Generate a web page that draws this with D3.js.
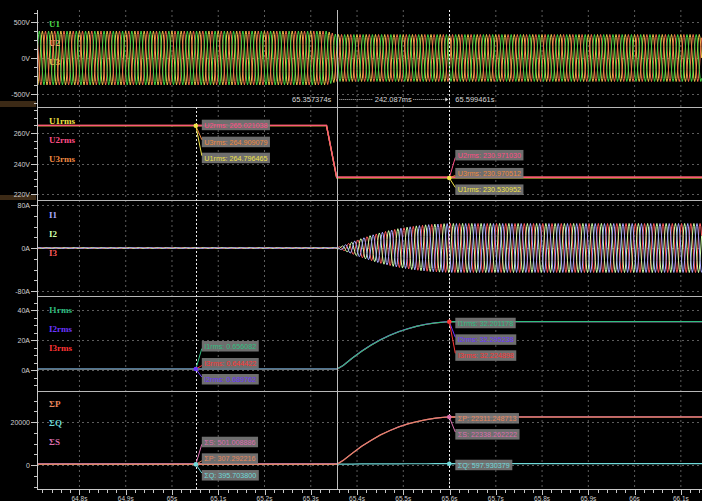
<!DOCTYPE html>
<html><head><meta charset="utf-8">
<script src="https://cdn.jsdelivr.net/npm/d3@7"></script>
<style>
html,body{margin:0;padding:0;background:#000;overflow:hidden}
svg{display:block}
</style></head><body>
<svg id="c" width="702" height="501"></svg>
<script>
// ================= DATA =================
const timeDomain = [64.7082, 66.1457];
const xTicks = [64.8, 64.9, 65.0, 65.1, 65.2, 65.3, 65.4, 65.5, 65.6, 65.7, 65.8, 65.9, 66.0, 66.1];
const xTickLabels = ["64.8s","64.9s","65s","65.1s","65.2s","65.3s","65.4s","65.5s","65.6s","65.7s","65.8s","65.9s","66s","66.1s"];

const markerTimes = [65.0515, 65.599461];
const cursorA = 65.357374;
const cursorLabels = ["65.357374s", "242.087ms", "65.599461s"];

// one mains cycle, sampled every 30 degrees
const sineTable = [0, 0.5, 0.866, 1, 0.866, 0.5, 0, -0.5, -0.866, -1, -0.866, -0.5];
const mainsHz = 50;
const crest = 1.4142;

// panel 1 : phase voltages
const uLegend = ["U1", "U2", "U3"];
const uTicks = [-500, 0, 500];
const uTickLabels = ["-500V", "0V", "500V"];

// panel 2 : rms voltages
const uT    = [64.70, 65.334, 65.356, 66.15];
const u1Rms = [264.796, 264.796, 230.531, 230.531];
const u2Rms = [265.021, 265.021, 230.971, 230.971];
const u3Rms = [264.909, 264.909, 230.970, 230.970];
const uRmsLegend = ["U1rms", "U2rms", "U3rms"];
const uRmsTicks = [220, 240, 260];
const uRmsTickLabels = ["220V", "240V", "260V"];

// panel 3 : phase currents
const iLegend = ["I1", "I2", "I3"];
const iTicks = [-80, 0, 80];
const iTickLabels = ["-80A", "0A", "80A"];

// panel 4 : rms currents
const iT    = [64.70, 65.357, 65.37, 65.39, 65.41, 65.43, 65.45, 65.47, 65.49, 65.51, 65.53, 65.55, 65.57, 65.59, 65.601, 66.15];
const i1Rms = [0.656, 0.656, 3.0, 8.0, 12.5, 16.5, 20.0, 23.0, 25.5, 27.5, 29.2, 30.5, 31.4, 32.0, 32.201, 32.201];
const i2Rms = [0.690, 0.690, 3.0, 8.0, 12.6, 16.6, 20.1, 23.1, 25.6, 27.6, 29.3, 30.6, 31.5, 32.1, 32.295, 32.295];
const i3Rms = [0.644, 0.644, 3.0, 8.0, 12.5, 16.5, 20.0, 23.0, 25.5, 27.5, 29.2, 30.5, 31.4, 32.0, 32.225, 32.225];
const iRmsLegend = ["I1rms", "I2rms", "I3rms"];
const iRmsTicks = [0, 20, 40];
const iRmsTickLabels = ["0A", "20A", "40A"];

// panel 5 : total powers
const sumP = [307, 307, 2100, 5500, 8700, 11400, 13900, 15900, 17700, 19100, 20200, 21100, 21800, 22200, 22311, 22311];
const sumQ = [396, 396, 420, 450, 480, 505, 525, 545, 560, 572, 582, 590, 594, 597, 598, 598];
const sumS = [501, 501, 2150, 5520, 8720, 11420, 13920, 15930, 17730, 19130, 20230, 21130, 21830, 22230, 22338, 22338];
const powLegend = ["ΣP", "ΣQ", "ΣS"];
const powTicks = [0, 20000];
const powTickLabels = ["0", "20000"];

// cursor read-outs
const readU_m1 = ["U2rms: 265.021038", "U3rms: 264.909079", "U1rms: 264.796465"];
const readU_m2 = ["U2rms: 230.971030", "U3rms: 230.970512", "U1rms: 230.530952"];
const readI_m1 = ["I1rms: 0.656082", "I3rms: 0.644422", "I2rms: 0.689762"];
const readI_m2 = ["I1rms: 32.201178", "I2rms: 32.295238", "I3rms: 32.224898"];
const readP_m1 = ["ΣS: 501.008886", "ΣP: 307.292216", "ΣQ: 395.703800"];
const readP_m2 = ["ΣP: 22311.248713", "ΣS: 22338.262222"];
const readQ_m2 = ["ΣQ: 597.930379"];

// ================= DRAWING =================
const svg = d3.select("#c");
const X0 = 37, X1 = 702;
const x = d3.scaleLinear().domain(timeDomain).range([X0, X1]);

const C = {
  u1: "#45d545", u2: "#f0704a", u3: "#e8c048",
  u1r: "#f2e447", u2r: "#ff4d86", u3r: "#f08a40",
  i1: "#a9a9ff", i2: "#cfffa8", i3: "#ff5a5a",
  i1r: "#2fbf80", i2r: "#6b35ff", i3r: "#ff3434",
  p: "#e9875c", q: "#6fdada", s: "#dd6fae"
};

const panels = [
  {top: 10,  bot: 107, y: d3.scaleLinear().domain([-500, 500]).range([94, 22]),  ticks: uTicks, labels: uTickLabels, step: 125},
  {top: 107, bot: 200, y: d3.scaleLinear().domain([220, 260]).range([194, 133]), ticks: uRmsTicks, labels: uRmsTickLabels, step: 5},
  {top: 200, bot: 296, y: d3.scaleLinear().domain([-80, 80]).range([291, 205]),  ticks: iTicks, labels: iTickLabels, step: 20},
  {top: 296, bot: 391, y: d3.scaleLinear().domain([0, 40]).range([370, 310]),    ticks: iRmsTicks, labels: iRmsTickLabels, step: 5},
  {top: 391, bot: 489, y: d3.scaleLinear().domain([0, 20000]).range([465, 422]), ticks: powTicks, labels: powTickLabels, step: 5000}
];

const defs = svg.append("defs");
panels.forEach((p, i) => {
  defs.append("clipPath").attr("id", "clip" + i)
    .append("rect").attr("x", X0 + 1).attr("y", p.top + 1).attr("width", X1 - X0).attr("height", p.bot - p.top - 1);
});

// left highlight tabs
svg.append("rect").attr("x", 0).attr("y", 101).attr("width", 36).attr("height", 6).attr("fill", "#3c2a16");
svg.append("rect").attr("x", 0).attr("y", 195).attr("width", 36).attr("height", 5).attr("fill", "#3c2a16");

const grid = svg.append("g");
// vertical grid
xTicks.forEach(t => {
  grid.append("line").attr("x1", x(t)).attr("x2", x(t)).attr("y1", 10).attr("y2", 489)
    .attr("stroke", "#5c5c5c").attr("stroke-dasharray", "2,3").attr("stroke-width", 1);
});
// horizontal grid + y axes
panels.forEach(p => {
  p.ticks.forEach((v, k) => {
    const yy = Math.round(p.y(v)) + 0.5;
    grid.append("line").attr("x1", X0).attr("x2", X1).attr("y1", yy).attr("y2", yy)
      .attr("stroke", "#5c5c5c").attr("stroke-dasharray", "2,3");
    svg.append("line").attr("x1", X0 - 6).attr("x2", X0).attr("y1", yy).attr("y2", yy).attr("stroke", "#c8c8c8");
    svg.append("text").attr("x", X0 - 7).attr("y", yy + 2.5).attr("text-anchor", "end")
      .attr("font-family", "Liberation Sans, Arial, sans-serif").attr("font-size", 7).attr("fill", "#d0d0d0").text(p.labels[k]);
  });
  // minor ticks
  const vTop = p.y.invert(p.top + 2), vBot = p.y.invert(p.bot - 2);
  const lo = Math.min(vTop, vBot), hi = Math.max(vTop, vBot);
  for (let v = Math.ceil(lo / p.step) * p.step; v <= hi; v += p.step) {
    if (p.ticks.includes(v)) continue;
    const yy = Math.round(p.y(v)) + 0.5;
    svg.append("line").attr("x1", X0 - 3).attr("x2", X0).attr("y1", yy).attr("y2", yy).attr("stroke", "#c8c8c8");
  }
});

// panel separators
[107, 200, 296, 391].forEach(yy => {
  svg.append("line").attr("x1", X0).attr("x2", X1).attr("y1", yy + 0.5).attr("y2", yy + 0.5).attr("stroke", "#b8b8b8");
});
// y axis line
svg.append("line").attr("x1", X0 + 0.5).attr("x2", X0 + 0.5).attr("y1", 10).attr("y2", 489).attr("stroke", "#c8c8c8");
// x axis
svg.append("line").attr("x1", X0).attr("x2", X1).attr("y1", 489.5).attr("y2", 489.5).attr("stroke", "#c8c8c8");
for (let k = 0; ; k++) {
  const t = 64.72 + k * 0.02;
  if (x(t) > X1) break;
  const major = xTicks.some(v => Math.abs(v - t) < 1e-6);
  const xx = Math.round(x(t)) + 0.5;
  svg.append("line").attr("x1", xx).attr("x2", xx).attr("y1", 489).attr("y2", major ? 495 : 493).attr("stroke", "#c8c8c8");
}
xTicks.forEach((t, k) => {
  svg.append("text").attr("x", x(t)).attr("y", 500.5).attr("text-anchor", "middle")
    .attr("font-family", "Liberation Sans, Arial, sans-serif").attr("font-size", 6.5).attr("fill", "#d0d0d0").text(xTickLabels[k]);
});

// ---------- waveform builder ----------
function waveform(ts, rms, shift) {
  const env = d3.scaleLinear().domain(ts).range(rms).clamp(true);
  const n = sineTable.length, dt = 1 / (mainsHz * n);
  const pts = [];
  for (let k = 0; ; k++) {
    const t = timeDomain[0] + k * dt;
    if (t > timeDomain[1]) break;
    pts.push([t, env(t) * crest * sineTable[(k + shift) % n]]);
  }
  return pts;
}
function drawPath(g, pts, y, color, w, op) {
  g.append("path").attr("d", d3.line().x(d => x(d[0])).y(d => y(d[1]))(pts))
    .attr("fill", "none").attr("stroke", color).attr("stroke-width", w || 1).attr("stroke-opacity", op || 1);
}
function series(ts, vs) { return ts.map((t, k) => [t, vs[k]]); }

// panel 1
const g1 = svg.append("g").attr("clip-path", "url(#clip0)");
drawPath(g1, waveform(uT, u3Rms, 8), panels[0].y, C.u3);
drawPath(g1, waveform(uT, u2Rms, 4), panels[0].y, C.u2);
drawPath(g1, waveform(uT, u1Rms, 0), panels[0].y, C.u1);

// panel 2
const g2 = svg.append("g").attr("clip-path", "url(#clip1)");
drawPath(g2, series(uT, u1Rms), panels[1].y, C.u1r, 1.3);
drawPath(g2, series(uT, u3Rms), panels[1].y, C.u3r, 1.3);
drawPath(g2, series(uT, u2Rms), panels[1].y, C.u2r, 1.3, 0.85);

// panel 3
const g3 = svg.append("g").attr("clip-path", "url(#clip2)");
drawPath(g3, waveform(iT, i3Rms, 7), panels[2].y, C.i3);
drawPath(g3, waveform(iT, i2Rms, 3), panels[2].y, C.i2);
drawPath(g3, waveform(iT, i1Rms, 11), panels[2].y, C.i1);

// panel 4
const g4 = svg.append("g").attr("clip-path", "url(#clip3)");
drawPath(g4, series(iT, i3Rms), panels[3].y, C.i3r, 1.2);
drawPath(g4, series(iT, i2Rms), panels[3].y, C.i2r, 1.2, 0.8);
drawPath(g4, series(iT, i1Rms), panels[3].y, C.i1r, 1.2);

// panel 5
const g5 = svg.append("g").attr("clip-path", "url(#clip4)");
drawPath(g5, series(iT, sumQ), panels[4].y, C.q, 1.2);
drawPath(g5, series(iT, sumS), panels[4].y, C.s, 1.2);
drawPath(g5, series(iT, sumP), panels[4].y, C.p, 1.2, 0.85);

// legends
const legendFont = "Liberation Serif, Times New Roman, serif";
function legend(top, names, colors) {
  const ys = [top + 17, top + 36, top + 55];
  names.forEach((n, k) => svg.append("text").attr("x", 49).attr("y", ys[k])
    .attr("font-family", legendFont).attr("font-weight", "bold").attr("font-size", 9).attr("fill", colors[k]).text(n));
}
legend(10, uLegend, [C.u1, "#f0a070", "#e8b850"]);
legend(107, uRmsLegend, [C.u1r, C.u2r, C.u3r]);
legend(201, iLegend, [C.i1, C.i2, C.i3]);
legend(296, iRmsLegend, [C.i1r, C.i2r, C.i3r]);
legend(390, powLegend, [C.p, C.q, C.s]);

// cursors
const xm1 = x(markerTimes[0]), xm2 = x(markerTimes[1]), xa = x(cursorA);
svg.append("line").attr("x1", Math.round(xm1) + 0.5).attr("x2", Math.round(xm1) + 0.5).attr("y1", 107).attr("y2", 489)
  .attr("stroke", "#e8e8e8").attr("stroke-dasharray", "2,2");
svg.append("line").attr("x1", Math.round(xa) + 0.5).attr("x2", Math.round(xa) + 0.5).attr("y1", 10).attr("y2", 489)
  .attr("stroke", "#bdbdbd");
svg.append("line").attr("x1", Math.round(xm2) + 0.5).attr("x2", Math.round(xm2) + 0.5).attr("y1", 10).attr("y2", 489)
  .attr("stroke", "#f0f0f0").attr("stroke-dasharray", "2,2");

// delta annotation
const annF = "Liberation Sans, Arial, sans-serif";
svg.append("text").attr("x", xa - 6).attr("y", 101.5).attr("text-anchor", "end").attr("font-family", annF)
  .attr("font-size", 7.5).attr("fill", "#d8d8d8").text(cursorLabels[0]);
svg.append("text").attr("x", (xa + xm2) / 2).attr("y", 101.5).attr("text-anchor", "middle").attr("font-family", annF)
  .attr("font-size", 7.5).attr("fill", "#d8d8d8").text(cursorLabels[1]);
svg.append("text").attr("x", xm2 + 6).attr("y", 101.5).attr("font-family", annF)
  .attr("font-size", 7.5).attr("fill", "#d8d8d8").text(cursorLabels[2]);
svg.append("line").attr("x1", xa + 2).attr("x2", (xa + xm2) / 2 - 20).attr("y1", 99.5).attr("y2", 99.5)
  .attr("stroke", "#bbb").attr("stroke-dasharray", "1,1");
svg.append("line").attr("x1", (xa + xm2) / 2 + 20).attr("x2", xm2 - 3).attr("y1", 99.5).attr("y2", 99.5)
  .attr("stroke", "#bbb").attr("stroke-dasharray", "1,1");
svg.append("path").attr("d", `M${xm2 - 4},97.5 L${xm2 - 1},99.5 L${xm2 - 4},101.5 Z`).attr("fill", "#ddd");

// read-out boxes
const boxF = "Liberation Sans, Arial, sans-serif";
function readout(mx, my, dotColor, items) {
  const g = svg.append("g");
  items.forEach(it => {
    const bx = mx + 6, by = my + it.dy, bh = 10.5;
    const ey = Math.max(by + 3, Math.min(by + bh - 3, my));
    g.append("line").attr("x1", mx).attr("y1", my).attr("x2", bx).attr("y2", ey).attr("stroke", it.color);
    const tx = g.append("text").attr("x", bx + 2.5).attr("y", by + 8).attr("font-family", boxF)
      .attr("font-size", 7.2).attr("fill", it.color).text(it.text);
    const w = tx.node().getComputedTextLength();
    g.insert("rect", "text").attr("x", bx).attr("y", by).attr("width", w + 5).attr("height", bh)
      .attr("fill", "#7a7a7a").attr("fill-opacity", 0.9);
  });
  g.append("circle").attr("cx", mx).attr("cy", my).attr("r", 2.3).attr("fill", dotColor);
}
const at = (ts, vs, t) => d3.scaleLinear().domain(ts).range(vs).clamp(true)(t);

readout(xm1, panels[1].y(at(uT, u1Rms, markerTimes[0])), C.u1r, [
  {text: readU_m1[0], color: C.u2r, dy: -6}, {text: readU_m1[1], color: C.u3r, dy: 11}, {text: readU_m1[2], color: C.u1r, dy: 27}]);
readout(xm2, panels[1].y(at(uT, u1Rms, markerTimes[1])), C.u1r, [
  {text: readU_m2[0], color: C.u2r, dy: -28}, {text: readU_m2[1], color: C.u3r, dy: -10}, {text: readU_m2[2], color: C.u1r, dy: 6.5}]);
readout(xm1, panels[3].y(at(iT, i1Rms, markerTimes[0])), C.i2r, [
  {text: readI_m1[0], color: C.i1r, dy: -28}, {text: readI_m1[1], color: C.i3r, dy: -11}, {text: readI_m1[2], color: C.i2r, dy: 5}]);
readout(xm2, panels[3].y(at(iT, i1Rms, markerTimes[1])), C.i3r, [
  {text: readI_m2[0], color: C.i1r, dy: -4}, {text: readI_m2[1], color: C.i2r, dy: 12.6}, {text: readI_m2[2], color: C.i3r, dy: 28.6}]);
readout(xm1, panels[4].y(at(iT, sumP, markerTimes[0])), C.q, [
  {text: readP_m1[0], color: C.s, dy: -27.6}, {text: readP_m1[1], color: C.p, dy: -11}, {text: readP_m1[2], color: C.q, dy: 5.7}]);
readout(xm2, panels[4].y(at(iT, sumP, markerTimes[1])), C.s, [
  {text: readP_m2[0], color: C.p, dy: -4}, {text: readP_m2[1], color: C.s, dy: 12}]);
readout(xm2, panels[4].y(at(iT, sumQ, markerTimes[1])), C.q, [
  {text: readQ_m2[0], color: C.q, dy: -4}]);
</script>
</body></html>
